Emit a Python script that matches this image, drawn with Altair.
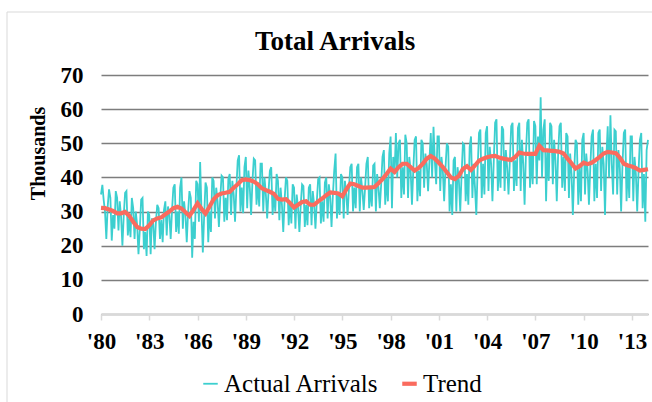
import altair as alt
import pandas as pd

# Monthly total arrivals, thousands (Jan 1980 - Jan 2014)
arrivals_1980s = [
    35.0, 37.8, 33.5, 30.0, 22.0, 31.5, 36.5, 34.0, 21.5, 29.0, 25.0, 36.0,  # 1980
    34.0, 24.5, 33.0, 28.5, 20.0, 29.0, 35.5, 36.0, 23.0, 28.0, 22.5, 34.0,  # 1981
    31.0, 22.0, 30.0, 26.0, 17.5, 25.0, 33.5, 34.0, 19.0, 24.0, 17.0, 30.0,  # 1982
    29.0, 17.5, 28.0, 26.5, 19.0, 27.0, 32.0, 31.0, 22.0, 27.5, 21.0, 30.5,  # 1983
    33.0, 23.0, 31.5, 29.0, 22.0, 30.5, 37.0, 38.0, 24.0, 30.0, 23.5, 37.0,  # 1984
    40.0, 25.0, 33.0, 29.0, 21.0, 30.0, 36.0, 34.0, 16.5, 27.0, 22.0, 39.0,  # 1985
    38.0, 27.0, 44.5, 30.0, 18.0, 29.0, 38.5, 37.0, 21.0, 30.0, 24.0, 40.0,  # 1986
    39.0, 28.0, 37.0, 33.0, 25.5, 34.0, 40.5, 40.0, 27.0, 34.0, 27.5, 39.5,  # 1987
    41.0, 29.0, 39.0, 35.0, 27.0, 37.0, 45.0, 46.5, 30.0, 37.0, 29.5, 43.0,  # 1988
    46.0, 31.0, 42.0, 37.0, 29.0, 39.0, 45.5, 45.0, 32.0, 38.5, 31.5, 44.0,  # 1989
]
arrivals_1990s = [
    44.0, 30.0, 40.0, 35.0, 28.0, 36.0, 42.0, 43.0, 29.0, 35.5, 30.0, 41.0,  # 1990
    39.0, 27.5, 37.0, 32.0, 24.0, 33.5, 40.0, 39.0, 26.0, 33.0, 26.5, 38.0,  # 1991
    37.0, 25.0, 35.0, 31.0, 24.0, 32.0, 38.0, 37.5, 25.5, 32.0, 26.0, 37.0,  # 1992
    38.0, 26.0, 36.0, 32.0, 25.0, 33.0, 39.5, 40.0, 26.5, 33.0, 27.0, 38.5,  # 1993
    40.0, 28.0, 38.0, 34.0, 25.5, 35.0, 42.0, 47.0, 28.0, 35.0, 29.0, 41.0,  # 1994
    40.0, 28.0, 39.0, 35.0, 29.0, 37.0, 43.0, 44.0, 30.0, 37.0, 31.0, 43.0,  # 1995
    44.0, 30.0, 40.0, 36.0, 30.5, 37.0, 44.0, 46.0, 31.0, 37.0, 31.5, 43.5,  # 1996
    44.0, 30.0, 41.0, 37.0, 31.0, 38.0, 46.0, 48.0, 32.0, 40.0, 33.0, 47.0,  # 1997
    52.0, 31.0, 46.0, 41.0, 53.0, 40.0, 50.0, 51.0, 34.0, 43.0, 35.0, 52.5,  # 1998
    50.0, 34.0, 46.0, 42.0, 32.0, 42.5, 51.0, 52.0, 33.0, 42.0, 34.5, 51.0,  # 1999
]
arrivals_2000s = [
    50.0, 37.0, 47.0, 44.0, 36.0, 45.0, 53.0, 40.0, 54.8, 45.0, 38.0, 52.0,  # 2000
    52.0, 36.0, 46.0, 42.0, 33.0, 43.0, 50.0, 49.0, 30.0, 38.0, 29.0, 45.0,  # 2001
    46.0, 30.0, 43.0, 39.0, 30.0, 41.0, 50.0, 49.5, 33.0, 41.0, 32.0, 49.0,  # 2002
    52.0, 34.0, 44.0, 37.0, 29.0, 43.0, 53.0, 54.0, 34.0, 44.0, 35.0, 53.0,  # 2003
    55.0, 36.0, 49.0, 44.0, 33.0, 45.0, 56.0, 57.0, 36.0, 45.0, 37.0, 55.0,  # 2004
    54.0, 36.0, 48.0, 43.0, 35.0, 45.0, 55.0, 56.0, 36.0, 45.0, 37.5, 54.5,  # 2005
    56.0, 36.0, 51.0, 44.0, 32.0, 47.0, 56.0, 57.0, 37.0, 47.0, 38.0, 56.5,  # 2006
    55.0, 38.0, 52.0, 45.0, 63.5, 40.0, 54.0, 57.0, 33.0, 48.0, 39.0, 56.0,  # 2007
    55.0, 38.0, 51.0, 45.0, 33.0, 47.0, 55.0, 56.0, 37.0, 46.0, 36.0, 53.0,  # 2008
    52.0, 34.0, 47.0, 41.0, 29.0, 42.0, 51.0, 50.0, 32.0, 43.0, 33.0, 51.0,  # 2009
]
arrivals_2010s = [
    53.0, 35.0, 47.0, 42.0, 32.0, 43.0, 52.0, 54.0, 33.0, 44.0, 34.0, 53.0,  # 2010
    54.0, 36.0, 49.0, 44.0, 29.0, 46.0, 55.0, 40.0, 58.2, 44.0, 35.0, 54.0,  # 2011
    53.5, 35.0, 48.0, 43.0, 30.0, 44.0, 53.0, 54.0, 33.0, 44.0, 34.0, 52.0,  # 2012
    52.0, 33.0, 46.0, 41.0, 30.0, 42.0, 51.0, 53.0, 31.0, 41.0, 27.0, 48.0,  # 2013
    51.0,                                                                    # 2014
]

# Smoothed trend, quarterly (Jan, Apr, Jul, Oct)
trend_1980s = [
    31.1, 31.0, 30.6, 30.2,  29.5, 29.5, 29.9, 28.8,  27.0, 25.5, 25.0, 24.9,
    26.0, 27.4, 28.0, 28.3,  29.2, 30.0, 31.0, 31.4,  30.9, 29.8, 28.7, 30.5,
    32.4, 30.8, 29.4, 31.5,  33.6, 34.8, 35.3, 35.5,  35.8, 37.0, 38.0, 39.2,
    39.4, 39.2, 38.8, 38.0,
]
trend_1990s = [
    36.8, 36.3, 35.8, 35.2,  33.7, 33.5, 33.6, 32.5,  31.2, 32.0, 32.8, 33.0,
    32.0, 32.0, 33.0, 33.8,  34.8, 35.6, 35.5, 35.3,  34.5, 36.5, 38.2, 38.0,
    37.5, 37.0, 37.0, 37.1,  37.2, 38.3, 39.5, 41.0,  42.6, 41.6, 43.0, 44.0,
    44.0, 43.0, 42.0, 42.8,
]
trend_2000s = [
    44.0, 45.5, 46.3, 45.5,  44.3, 43.0, 41.5, 40.0,  39.5, 40.5, 42.5, 43.3,
    42.2, 43.5, 44.9, 45.5,  45.9, 46.2, 46.3, 45.8,  45.5, 45.3, 45.1, 46.0,
    47.3, 47.0, 46.9, 46.9,  46.9, 49.3, 48.0, 47.9,  47.8, 47.7, 47.5, 47.0,
    45.5, 44.1, 42.6, 43.3,
]
trend_2010s = [
    44.3, 43.9, 44.3, 45.1,  46.0, 47.0, 47.5, 47.3,  47.1, 45.8, 44.0, 43.5,
    43.2, 42.7, 42.0, 42.2,  42.4,
]

chart_title = "Total Arrivals"
series_names = ["Actual Arrivals", "Trend"]
series_colors = ["#3ccfcf", "#fa6b5e"]
tick_years = list(range(1980, 2014, 3))

arrivals = arrivals_1980s + arrivals_1990s + arrivals_2000s + arrivals_2010s
trend = trend_1980s + trend_1990s + trend_2000s + trend_2010s

actual_df = pd.DataFrame({
    "date": pd.date_range("1980-01-01", periods=len(arrivals), freq="MS"),
    "value": arrivals,
    "series": series_names[0],
})
trend_df = pd.DataFrame({
    "date": pd.date_range("1980-01-01", periods=len(trend), freq="QS"),
    "value": trend,
    "series": series_names[1],
})
df = pd.concat([actual_df, trend_df], ignore_index=True)

FONT = "Liberation Serif"

legend = alt.Legend(
    orient="none", legendX=97, legendY=296, direction="horizontal", title=None,
    labelFont=FONT, labelFontSize=25, labelColor="black", labelOffset=1,
    symbolType="stroke", symbolSize=210, columnPadding=14,
)

lines = alt.Chart(df).mark_line().encode(
    x=alt.X(
        "date:T",
        scale=alt.Scale(domain=[alt.DateTime(year=1980, month=1, date=1),
                                alt.DateTime(year=2014, month=1, date=1)]),
        axis=alt.Axis(
            values=[alt.DateTime(year=y, month=1, date=1) for y in tick_years],
            format="'%y", title=None, grid=False,
            domainColor="#d9d9d9", domainWidth=2,
            tickColor="#d9d9d9", tickSize=6, tickWidth=1.5,
            labelFont=FONT, labelFontSize=23, labelFontWeight="bold",
            labelColor="black", labelPadding=10, labelAlign="center",
            labelFlush=False, labelOverlap=False, zindex=1,
        ),
    ),
    y=alt.Y(
        "value:Q",
        scale=alt.Scale(domain=[0, 70]),
        axis=alt.Axis(
            values=list(range(0, 71, 10)), title="Thousands",
            titleFont=FONT, titleFontSize=20, titleFontWeight="bold",
            titleColor="black", titleAngle=-90, titleX=-63, titleY=78,
            titleAlign="center", titleBaseline="middle",
            domain=False, ticks=False, gridColor="#7d7d7d", gridWidth=1.5,
            labelFont=FONT, labelFontSize=23, labelFontWeight="bold",
            labelColor="black", labelPadding=18,
        ),
    ),
    color=alt.Color("series:N", scale=alt.Scale(domain=series_names, range=series_colors),
                    legend=legend),
    strokeWidth=alt.StrokeWidth("series:N", scale=alt.Scale(domain=series_names, range=[1.8, 4.2]),
                                legend=legend),
)

title = alt.Chart(alt.Data(values=[{"t": chart_title}])).mark_text(
    font=FONT, fontSize=27, fontWeight="bold", color="black",
    align="center", baseline="alphabetic",
).encode(x=alt.value(234), y=alt.value(-25), text="t:N")

frame = alt.Chart(alt.Data(values=[{"k": 0}])).mark_rect(
    filled=False, stroke="#d9d9d9", strokeWidth=1
).encode(
    x=alt.value(-94), x2=alt.value(560), y=alt.value(-63), y2=alt.value(400)
)

chart = alt.layer(frame, title, lines).properties(
    width=547,
    height=239,
    autosize=alt.AutoSizeParams(type="none"),
    padding={"left": 101, "top": 75, "right": 4, "bottom": 88},
).configure_view(stroke=None)

chart.save("out.html", embed_options={"renderer": "svg", "actions": False})
